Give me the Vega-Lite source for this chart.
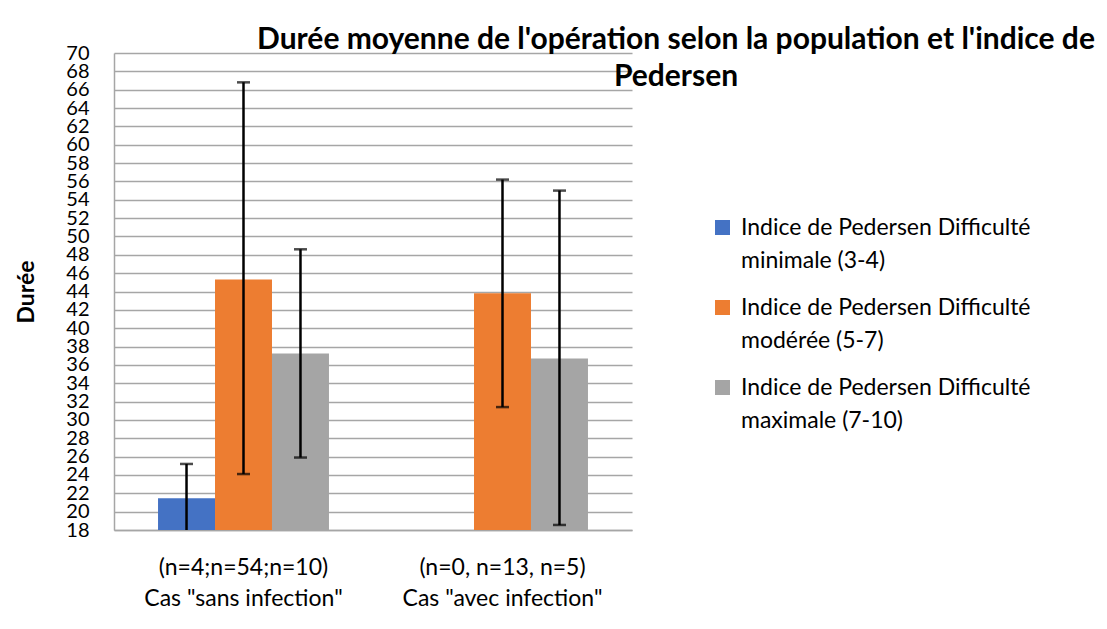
{
  "$schema": "https://vega.github.io/schema/vega-lite/v6.json",
  "width": 518,
  "height": 477,
  "autosize": {"type": "none"},
  "padding": {"left": 114, "top": 53, "right": 475, "bottom": 99},
  "background": "white",
  "title": {
    "text": ["Durée moyenne de l'opération selon la population et l'indice de", "Pedersen"],
    "font": "Lato",
    "fontSize": 30,
    "fontWeight": "bold",
    "color": "#000000",
    "anchor": "middle",
    "dx": 303,
    "lineHeight": 37,
    "offset": -49
  },
  "data": {
    "values": [
      {"groupe": "(n=4;n=54;n=10)|Cas \"sans infection\"", "serie": "Indice de Pedersen Difficulté minimale (3-4)", "moyenne": 21.45, "bas": 17.7, "haut": 25.2},
      {"groupe": "(n=4;n=54;n=10)|Cas \"sans infection\"", "serie": "Indice de Pedersen Difficulté modérée (5-7)", "moyenne": 45.3, "bas": 24.1, "haut": 66.8},
      {"groupe": "(n=4;n=54;n=10)|Cas \"sans infection\"", "serie": "Indice de Pedersen Difficulté maximale (7-10)", "moyenne": 37.25, "bas": 25.9, "haut": 48.6},
      {"groupe": "(n=0, n=13, n=5)|Cas \"avec infection\"", "serie": "Indice de Pedersen Difficulté modérée (5-7)", "moyenne": 43.8, "bas": 31.4, "haut": 56.2},
      {"groupe": "(n=0, n=13, n=5)|Cas \"avec infection\"", "serie": "Indice de Pedersen Difficulté maximale (7-10)", "moyenne": 36.7, "bas": 18.55, "haut": 55.0}
    ]
  },
  "encoding": {
    "x": {
      "field": "groupe",
      "type": "nominal",
      "sort": null,
      "scale": {"paddingInner": 0.34, "paddingOuter": 0.17},
      "axis": {
        "title": null,
        "labelAngle": 0,
        "labelExpr": "split(datum.label, '|')",
        "labelFont": "Lato",
        "labelFontSize": 23,
        "labelColor": "#000000",
        "labelLineHeight": 31,
        "labelLimit": 400,
        "labelPadding": 26,
        "ticks": false,
        "tickSize": 0,
        "domainColor": "#a6a6a6",
        "domainWidth": 1.5
      }
    },
    "xOffset": {
      "field": "serie",
      "type": "nominal",
      "sort": null,
      "scale": {
        "domain": ["Indice de Pedersen Difficulté minimale (3-4)", "Indice de Pedersen Difficulté modérée (5-7)", "Indice de Pedersen Difficulté maximale (7-10)"],
        "paddingInner": 0,
        "paddingOuter": 0
      }
    }
  },
  "layer": [
    {
      "mark": {"type": "bar", "clip": true},
      "encoding": {
        "y": {
          "field": "moyenne",
          "type": "quantitative",
          "scale": {"domain": [18, 70], "zero": false, "nice": false},
          "axis": {"title": "Durée", "labelPadding": 25, "titlePadding": 27, "values": [18,20,22,24,26,28,30,32,34,36,38,40,42,44,46,48,50,52,54,56,58,60,62,64,66,68,70]}
        },
        "color": {
          "field": "serie",
          "type": "nominal",
          "scale": {
            "domain": ["Indice de Pedersen Difficulté minimale (3-4)", "Indice de Pedersen Difficulté modérée (5-7)", "Indice de Pedersen Difficulté maximale (7-10)"],
            "range": ["#4472C4", "#ED7D31", "#A5A5A5"]
          },
          "legend": {
            "title": null,
            "orient": "none",
            "legendX": 597,
            "legendY": 163,
            "padding": 0,
            "symbolType": "square",
            "symbolSize": 225,
            "symbolStrokeWidth": 0,
            "symbolOpacity": 1,
            "labelFont": "Lato",
            "labelFontSize": 23,
            "labelColor": "#000000",
            "labelLimit": 400,
            "labelOffset": 7,
            "labelBaseline": "middle",
            "rowPadding": 23,
            "labelExpr": "[substring(datum.label, 0, 29), substring(datum.label, 30)]"
          }
        }
      }
    },
    {
      "mark": {"type": "rule", "color": "#000000", "strokeWidth": 2.5, "clip": true},
      "encoding": {
        "y": {"field": "bas", "type": "quantitative", "axis": {"title": "Durée", "labelPadding": 25, "titlePadding": 27, "values": [18,20,22,24,26,28,30,32,34,36,38,40,42,44,46,48,50,52,54,56,58,60,62,64,66,68,70]}},
        "y2": {"field": "haut"}
      }
    },
    {
      "mark": {"type": "tick", "color": "#000000", "thickness": 2.5, "size": 13, "clip": true},
      "encoding": {
        "y": {"field": "haut", "type": "quantitative", "axis": {"title": "Durée", "labelPadding": 25, "titlePadding": 27, "values": [18,20,22,24,26,28,30,32,34,36,38,40,42,44,46,48,50,52,54,56,58,60,62,64,66,68,70]}}
      }
    },
    {
      "mark": {"type": "tick", "color": "#000000", "thickness": 2.5, "size": 13, "clip": true},
      "encoding": {
        "y": {"field": "bas", "type": "quantitative", "axis": {"title": "Durée", "labelPadding": 25, "titlePadding": 27, "values": [18,20,22,24,26,28,30,32,34,36,38,40,42,44,46,48,50,52,54,56,58,60,62,64,66,68,70]}}
      }
    }
  ],
  "config": {
    "view": {"stroke": null},
    "style": {"guide-label": {"lineHeight": 33}},
    "axisY": {
      "titleFont": "Lato",
      "titleFontSize": 23,
      "titleFontWeight": "bold",
      "titleColor": "#000000",
      "labelFont": "Lato",
      "labelFontSize": 20,
      "labelLineHeight": 18,
      "labelColor": "#000000",
      "labelOverlap": false,
      "labelFlush": false,
      "ticks": false,
      "tickSize": 0,
      "domainColor": "#a6a6a6",
      "domainWidth": 1.5,
      "grid": true,
      "gridColor": "#a6a6a6",
      "gridWidth": 1.5
    }
  }
}
